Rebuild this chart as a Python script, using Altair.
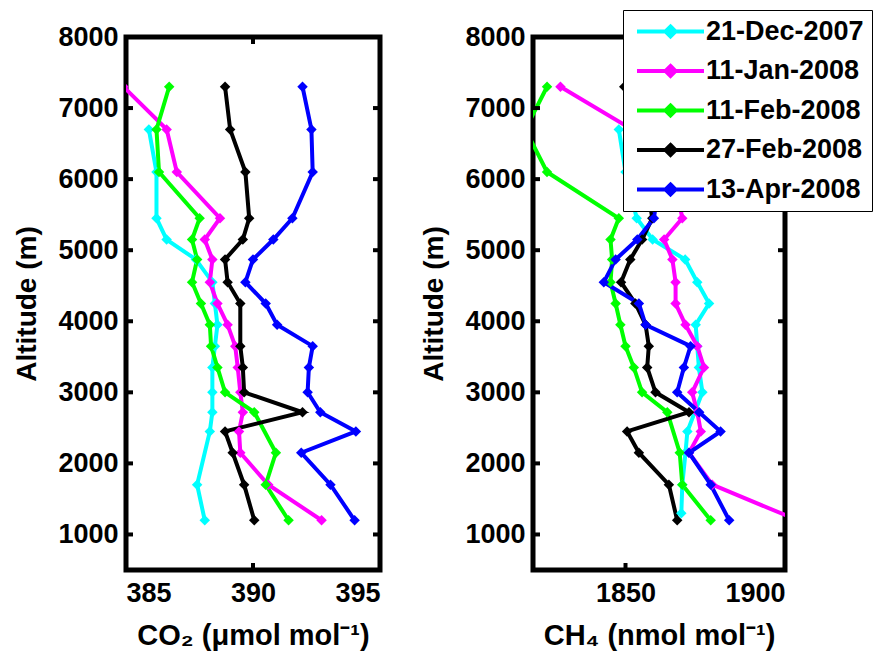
import altair as alt
import pandas as pd

series = ["21-Dec-2007", "11-Jan-2008", "11-Feb-2008", "27-Feb-2008", "13-Apr-2008"]
colors = ["#00FFFF", "#FF00FF", "#00FF00", "#000000", "#0000FF"]

# ---- CO2 profiles (altitude m, CO2 umol/mol) ----
co2_cyan_alt = [6700, 6100, 5450, 5150, 4870, 4550, 4250, 3950, 3650, 3350, 3000, 2720, 2450, 1700, 1200]
co2_cyan_val = [385.9, 386.2, 386.2, 386.6, 387.75, 388.4, 388.5, 388.6, 388.5, 388.4, 388.4, 388.4, 388.3, 387.8, 388.1]

co2_mag_alt = [7300, 6700, 6100, 5450, 5150, 4870, 4550, 4250, 3950, 3650, 3350, 3000, 2720, 2450, 2150, 1700, 1200]
co2_mag_val = [384.9, 386.6, 387.0, 388.7, 388.1, 388.4, 388.3, 388.6, 389.0, 389.3, 389.4, 389.5, 389.6, 389.45, 389.5, 390.6, 392.7]

co2_grn_alt = [7300, 6700, 6100, 5450, 5150, 4870, 4550, 4250, 3950, 3650, 3350, 3000, 2720, 2150, 1700, 1200]
co2_grn_val = [386.7, 386.2, 386.3, 387.9, 387.6, 387.8, 387.6, 387.95, 388.3, 388.35, 388.6, 388.9, 390.05, 390.9, 390.5, 391.4]

co2_blk_alt = [7300, 6700, 6100, 5450, 5150, 4870, 4550, 4250, 3650, 3350, 3000, 2720, 2450, 2150, 1700, 1200]
co2_blk_val = [388.9, 389.1, 389.7, 389.85, 389.6, 388.9, 389.0, 389.5, 389.5, 389.6, 389.65, 391.95, 388.9, 389.2, 389.65, 390.05]

co2_blu_alt = [7300, 6700, 6100, 5450, 5150, 4870, 4550, 4250, 3950, 3650, 3350, 3000, 2720, 2450, 2150, 1700, 1200]
co2_blu_val = [391.95, 392.3, 392.35, 391.55, 390.8, 390.0, 389.7, 390.5, 390.95, 392.35, 392.2, 392.15, 392.65, 394.05, 391.9, 393.05, 394.0]

# ---- CH4 profiles (altitude m, CH4 nmol/mol) ----
ch4_cyan_alt = [6700, 6100, 5450, 5150, 4870, 4550, 4250, 3950, 3650, 3350, 3000, 2450, 2150, 1700, 1300]
ch4_cyan_val = [1847.9, 1850.0, 1853.5, 1858.5, 1868.7, 1872.5, 1876.2, 1872.0, 1872.5, 1873.0, 1874.1, 1869.4, 1868.8, 1867.8, 1867.5]

ch4_mag_alt = [7300, 6700, 6100, 5450, 5150, 4870, 4550, 4250, 3950, 3650, 3350, 3000, 2720, 2450, 2150, 1700, 1200]
ch4_mag_val = [1829.6, 1852.0, 1865.0, 1867.8, 1862.1, 1864.7, 1865.7, 1865.7, 1868.8, 1872.5, 1874.6, 1870.9, 1872.5, 1873.6, 1869.9, 1877.2, 1904.0]

ch4_grn_alt = [7300, 6700, 6100, 5450, 5150, 4870, 4550, 4250, 3950, 3650, 3350, 3000, 2720, 2150, 1700, 1200]
ch4_grn_val = [1825.4, 1818.6, 1825.4, 1847.9, 1845.3, 1845.8, 1845.3, 1846.9, 1848.4, 1850.0, 1852.6, 1855.2, 1863.1, 1867.0, 1867.8, 1876.7]

ch4_blk_alt = [7300, 6700, 6100, 5450, 5150, 4870, 4550, 4250, 3950, 3650, 3350, 3000, 2720, 2450, 2150, 1700, 1200]
ch4_blk_val = [1849.6, 1852.0, 1856.0, 1858.4, 1855.2, 1851.5, 1848.6, 1853.1, 1856.3, 1857.3, 1856.8, 1859.4, 1869.9, 1850.5, 1854.2, 1863.6, 1866.2]

ch4_blu_alt = [7300, 6700, 6100, 5450, 5150, 4870, 4550, 4250, 3950, 3650, 3350, 3000, 2720, 2450, 2150, 1700, 1200]
ch4_blu_val = [1866.0, 1863.0, 1861.0, 1858.9, 1853.7, 1846.9, 1843.2, 1854.2, 1856.3, 1870.4, 1868.3, 1866.2, 1873.1, 1879.8, 1869.9, 1876.7, 1882.5]

y_ticks = [1000, 2000, 3000, 4000, 5000, 6000, 7000, 8000]
co2_ticks = [385, 390, 395]
ch4_ticks = [1850, 1900]

FONT = "Liberation Sans"
H = 533
W_LEFT = 254
W_RIGHT = 252


def frame(alts, vals):
    rows = []
    for name, a_list, v_list in zip(series, alts, vals):
        for a, v in zip(a_list, v_list):
            rows.append({"series": name, "alt": a, "val": v})
    return pd.DataFrame(rows)


co2_df = frame([co2_cyan_alt, co2_mag_alt, co2_grn_alt, co2_blk_alt, co2_blu_alt],
               [co2_cyan_val, co2_mag_val, co2_grn_val, co2_blk_val, co2_blu_val])
ch4_df = frame([ch4_cyan_alt, ch4_mag_alt, ch4_grn_alt, ch4_blk_alt, ch4_blu_alt],
               [ch4_cyan_val, ch4_mag_val, ch4_grn_val, ch4_blk_val, ch4_blu_val])


def panel(df, domain, xticks, xtitle, width, legend):
    xs = alt.Scale(domain=domain, nice=False, zero=False)
    ys = alt.Scale(domain=[500, 8000], nice=False, zero=False)
    x_axis = alt.Axis(values=xticks, title=xtitle, ticks=False, domain=False, grid=False,
                      labelPadding=10, titlePadding=15, format="d", titleFontSize=29)
    y_axis = alt.Axis(values=y_ticks, title="Altitude (m)", ticks=False, domain=False, grid=False,
                      labelPadding=8, titlePadding=16, format="d", titleFontSize=28)
    color = alt.Color("series:N", scale=alt.Scale(domain=series, range=colors), legend=legend)
    base = alt.Chart(df)
    lines = base.mark_line(strokeWidth=4, clip=True).encode(
        x=alt.X("val:Q", scale=xs, axis=x_axis),
        y=alt.Y("alt:Q", scale=ys, axis=y_axis),
        color=color,
        order=alt.Order("alt:Q"),
    )
    pts = base.mark_point(filled=True, shape="diamond", size=110, opacity=1, clip=True).encode(
        x=alt.X("val:Q", scale=xs),
        y=alt.Y("alt:Q", scale=ys),
        color=alt.Color("series:N", scale=alt.Scale(domain=series, range=colors), legend=None),
    )
    ytk = pd.DataFrame({"t": y_ticks})
    xtk = pd.DataFrame({"t": xticks})
    yl = alt.Chart(ytk).mark_rule(color="black", strokeWidth=4).encode(
        y=alt.Y("t:Q", scale=ys), x=alt.value(0), x2=alt.value(7))
    yr = alt.Chart(ytk).mark_rule(color="black", strokeWidth=4).encode(
        y=alt.Y("t:Q", scale=ys), x=alt.value(width - 7), x2=alt.value(width))
    xb = alt.Chart(xtk).mark_rule(color="black", strokeWidth=4).encode(
        x=alt.X("t:Q", scale=xs), y=alt.value(H - 7), y2=alt.value(H))
    xt = alt.Chart(xtk).mark_rule(color="black", strokeWidth=4).encode(
        x=alt.X("t:Q", scale=xs), y=alt.value(0), y2=alt.value(7))
    return alt.layer(lines, pts, yl, yr, xb, xt).properties(width=width, height=H)


legend_symbol = "M-3.35,0H3.35M0,-0.5L0.5,0L0,0.5L-0.5,0Z"

left = panel(co2_df, [385, 395], co2_ticks, "CO₂ (μmol mol⁻¹)", W_LEFT, None)
right = panel(
    ch4_df, [1821, 1900], ch4_ticks, "CH₄ (nmol mol⁻¹)", W_RIGHT,
    alt.Legend(title=None, orient="none", legendX=90, legendY=-27, direction="vertical",
               symbolType=legend_symbol, symbolSize=400, symbolStrokeWidth=4,
               symbolOffset=26, labelOffset=22, padding=8, rowPadding=11.5,
               labelFont=FONT, labelFontSize=27, labelFontWeight="bold", labelColor="black",
               strokeColor="black", fillColor="white", labelLimit=400),
)

chart = alt.hconcat(left, right, spacing=153, bounds="flush").resolve_scale(
    color="independent"
).resolve_legend(
    color="independent"
).properties(
    padding={"left": 3, "top": -1, "right": 0, "bottom": 0}
).configure(
    background="white",
).configure_view(
    stroke="black", strokeWidth=5
).configure_axis(
    labelFont=FONT, labelFontSize=27, labelFontWeight="bold", labelColor="black",
    titleFont=FONT, titleFontWeight="bold", titleColor="black",
)

chart.save("out.html", embed_options={"renderer": "svg", "actions": False})
